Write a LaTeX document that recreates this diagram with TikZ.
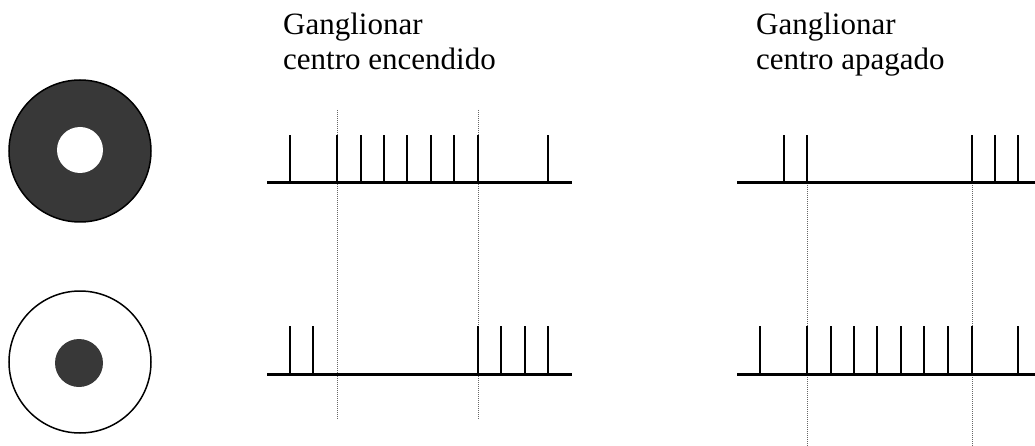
\documentclass[tikz,border=0pt]{standalone}
\usepackage{fontspec}
\setmainfont{Liberation Serif}

\tikzset{
  trace/.style={line width=3pt},
  spike/.style={line width=1.8pt},
  marker/.style={line width=1pt, black!60, dash pattern=on 1pt off 1pt},
  title/.style={anchor=base west, align=left, inner sep=0pt,
    font=\fontsize{31}{35}\selectfont},
}

\begin{document}
\begin{tikzpicture}[x=1pt, y=-1pt]
\useasboundingbox (0,0) rectangle (1035,446);
% stimuli
\draw[line width=1.5pt, fill=black!78] (80,151) circle (71);
\fill[white] (80,150) circle (23);
\draw[line width=1.5pt] (80,362) circle (71);
\fill[black!78] (79,363) circle (24);
% titles
\node[title] (on) at (283,70) {Ganglionar\\centro encendido};
\node[title] (off) at (756,70) {Ganglionar\\centro apagado};
% stimulus window
\foreach \x in {337,478} {
  \draw[marker] (\x,110) -- (\x,420);
}
\foreach \x in {807,972} {
  \draw[marker] (\x,183) -- (\x,446);
}
% centro encendido
\draw[trace] (267,183) -- (572,183);
\foreach \x in {290,337,361,384,407,431,454,478,548} {
  \draw[spike] (\x,183) -- (\x,135);
}
\draw[trace] (267,374) -- (572,374);
\foreach \x in {290,313,478,501,525,548} {
  \draw[spike] (\x,374) -- (\x,326);
}
% centro apagado
\draw[trace] (737,183) -- (1035,183);
\foreach \x in {784,807,972,995,1018} {
  \draw[spike] (\x,183) -- (\x,135);
}
\draw[trace] (737,374) -- (1035,374);
\foreach \x in {760,807,831,854,877,901,924,948,972,1018} {
  \draw[spike] (\x,374) -- (\x,326);
}
\end{tikzpicture}
\end{document}
